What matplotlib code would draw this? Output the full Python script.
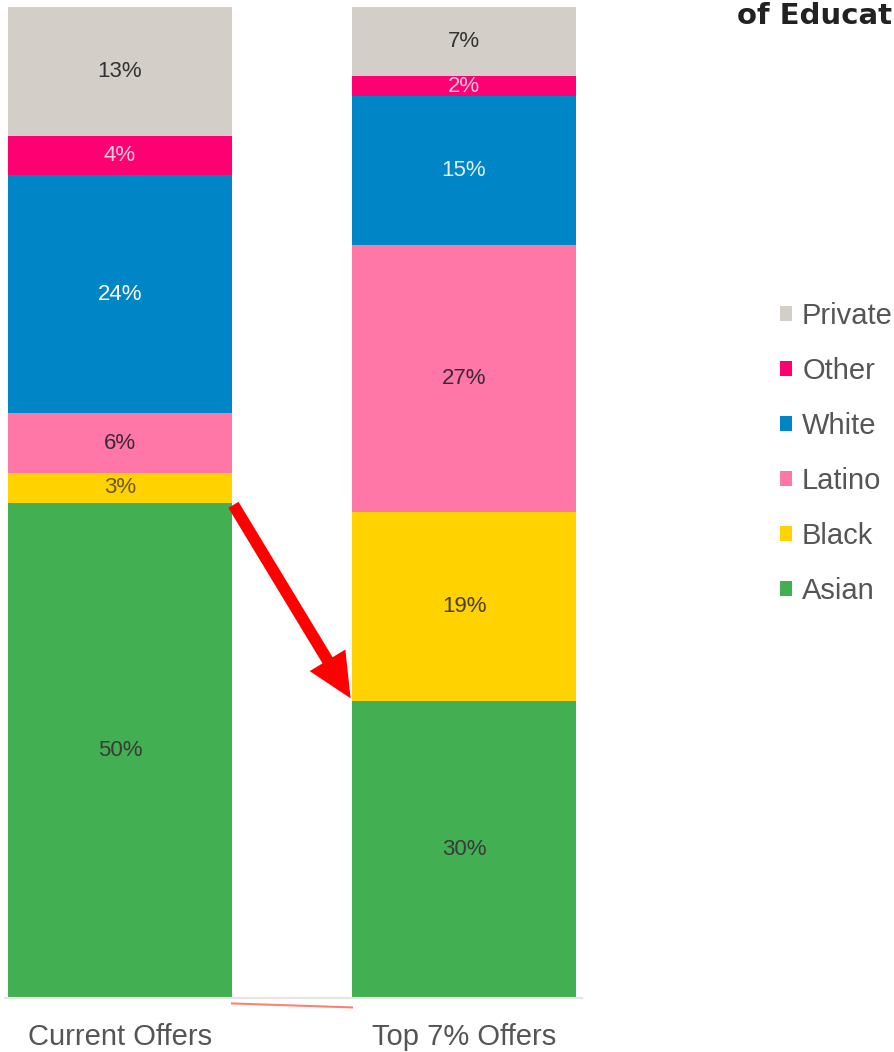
import matplotlib.pyplot as plt
from matplotlib.patches import Patch, FancyArrowPatch

# data
groups = ["Current Offers", "Top 7% Offers"]
categories = ["Asian", "Black", "Latino", "White", "Other", "Private"]
current_offers = [50, 3, 6, 24, 4, 13]
top7_offers = [30, 19, 27, 15, 2, 7]

colors = ["#42AF52", "#FFD200", "#FF77A7", "#0085C6", "#FF0072", "#D4CEC9"]
label_colors = [
    ["#3a3a3a", "#6b5a10", "#3a2a30", "#FFFFFF", "#FFC6DC", "#333333"],
    ["#3a3a3a", "#4a4020", "#3a2a30", "#E0F0FF", "#FFC6DC", "#333333"],
]

W, H = 894, 1052
fig = plt.figure(figsize=(W / 100, H / 100), dpi=100)

# axes spans the grey baseline, bar centres at 120px and 464px
px_per_unit = 344
ax_left, ax_right = 5, 582
ax = fig.add_axes([ax_left / W, (H - 998) / H, (ax_right - ax_left) / W, 991 / H])
ax.set_xlim((ax_left - 120) / px_per_unit, (ax_right - 120) / px_per_unit)
ax.set_ylim(0, 100)

bar_width = 224 / px_per_unit
series = [current_offers, top7_offers]
for i, vals in enumerate(series):
    bottom = 0
    for j, v in enumerate(vals):
        ax.bar(i, v, bottom=bottom, width=bar_width, color=colors[j],
               edgecolor="none")
        ax.text(i, bottom + v / 2, f"{v}%", ha="center", va="center",
                fontsize=16, color=label_colors[i][j], family="Liberation Sans")
        bottom += v

ax.set_xticks([0, 1])
ax.set_xticklabels(groups, fontsize=21, color="#555555", family="Liberation Sans")
ax.tick_params(axis="x", length=0, pad=18)
ax.set_yticks([])
for s in ["top", "left", "right"]:
    ax.spines[s].set_visible(False)
ax.spines["bottom"].set_color("#E4E4E4")
ax.spines["bottom"].set_linewidth(1.5)

# red arrow from top of Asian (current) to top of Asian (top 7%)
half = bar_width / 2
arrow = FancyArrowPatch((half, current_offers[0]), (1 - half, top7_offers[0]),
                        arrowstyle="simple,tail_width=8.5,head_width=30,head_length=32",
                        mutation_scale=1, color="#FF0000", lw=0, zorder=5)
ax.add_patch(arrow)
ax.plot([half, 1 - half], [-0.55, -0.95], color="#FF8070", lw=1.5, clip_on=False)

# legend, top to bottom: Private ... Asian
handles = [Patch(facecolor=colors[j], edgecolor="none") for j in range(5, -1, -1)]
labels = [categories[j] for j in range(5, -1, -1)]
fig.legend(handles, labels, loc="upper left", bbox_to_anchor=(768 / W, 1 - 290 / H),
           frameon=False, prop={"family": "Liberation Sans", "size": 21},
           labelcolor="#555555", handlelength=0.42, handleheight=0.42,
           handletextpad=0.35, labelspacing=0.93, borderaxespad=0)

# title is cut off at the right edge of the reference
fig.text(737 / W, 1 - 24 / H, "of Educat", fontsize=21, fontweight="bold",
         color="#222222", family="DejaVu Sans", ha="left", va="baseline")

fig.savefig("out.png", dpi=100)
